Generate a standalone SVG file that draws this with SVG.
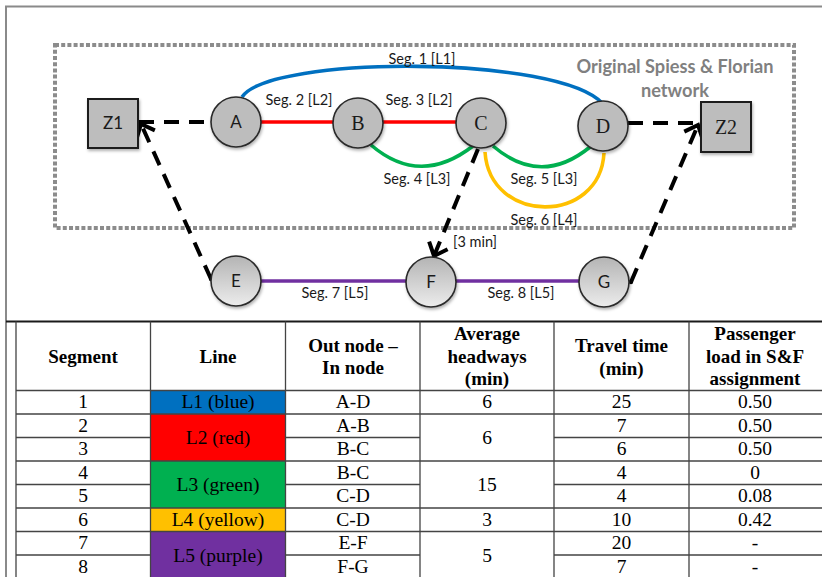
<svg xmlns="http://www.w3.org/2000/svg" width="822" height="577" viewBox="0 0 822 577">
  <style>
    .lbl { font-family: Lato, "Open Sans", "Liberation Sans", sans-serif; font-size: 14.5px; fill: #1a1a1a; }
    .ns { font-family: Lato, "Liberation Sans", sans-serif; font-size: 17px; fill: #1a1a1a; text-anchor: middle; }
    .nr { font-family: "Liberation Serif", "DejaVu Serif", serif; font-size: 20px; fill: #1a1a1a; text-anchor: middle; }
    .node { stroke: #2a2a2a; stroke-width: 1.6; }
    .solid { fill: #bdbdbd; }
    .grad { fill: url(#nodeGrad); }
    .zone { fill: #bdbdbd; stroke: #1a1a1a; stroke-width: 2; }
    .seg { fill: none; stroke-width: 3.6; }
    .walk { fill: none; stroke: #000; stroke-width: 4; stroke-dasharray: 15 10; }
    .th { font-family: "Liberation Serif", "Times New Roman", serif; font-size: 19px; font-weight: bold; fill: #000; text-anchor: middle; }
    .td { font-family: "Liberation Serif", "Times New Roman", serif; font-size: 19.5px; fill: #000; text-anchor: middle; }
    .grid { stroke: #444; stroke-width: 1.3; fill: none; }
  </style>
  <defs>
    <linearGradient id="nodeGrad" x1="0" y1="0" x2="0" y2="1">
      <stop offset="0" stop-color="#b4b4b4"/>
      <stop offset="1" stop-color="#ececec"/>
    </linearGradient>
    <filter id="shadow" x="-30%" y="-30%" width="160%" height="170%">
      <feDropShadow dx="1" dy="2" stdDeviation="1.5" flood-color="#000" flood-opacity="0.3"/>
    </filter>
    <marker id="chev" markerUnits="userSpaceOnUse" markerWidth="30" markerHeight="30" refX="0" refY="0" viewBox="-16 -15 20 30" orient="auto">
      <path d="M-11.5,-10 L0,0 L-11.5,10" fill="none" stroke="#000" stroke-width="4"/>
    </marker>
    <marker id="dot" markerUnits="userSpaceOnUse" markerWidth="6" markerHeight="6" refX="0" refY="0" viewBox="-3 -3 6 6">
      <circle r="2.2" fill="#000"/>
    </marker>
  </defs>

  <rect width="822" height="577" fill="#fff"/>

  <!-- page frame -->
  <path d="M6,577 V6.5 H822" fill="none" stroke="#8a8a8a" stroke-width="2"/>

  <!-- original network boundary -->
  <rect x="55" y="45" width="739" height="183" fill="none" stroke="#8c8c8c" stroke-width="4" stroke-dasharray="4 2.2"/>
  <text x="675" y="73" text-anchor="middle" font-family="Lato, 'Open Sans', 'Liberation Sans', sans-serif" font-size="18.2px" font-weight="bold" fill="#808080">Original Spiess &amp; Florian</text>
  <text x="675" y="97" text-anchor="middle" font-family="Lato, 'Open Sans', 'Liberation Sans', sans-serif" font-size="18.2px" font-weight="bold" fill="#808080">network</text>

  <!-- connectors -->
  <g id="connectors">
    <path class="seg" stroke="#0070c0" d="M242,97 C270,55 560,55 603,104"/>
    <line class="seg" stroke="#ff0000" x1="261" y1="122" x2="334" y2="122"/>
    <line class="seg" stroke="#ff0000" x1="383" y1="122" x2="457" y2="122"/>
    <path class="seg" stroke="#00b050" d="M371,145 Q420,187 473,146"/>
    <path class="seg" stroke="#00b050" d="M493,146 Q541,187 590,147"/>
    <path class="seg" stroke="#ffc000" d="M485,152 C490,225 600,225 604,153"/>
    <line class="seg" stroke="#7030a0" x1="261" y1="281" x2="406" y2="281"/>
    <line class="seg" stroke="#7030a0" x1="456" y1="281" x2="579" y2="281"/>

    <line class="walk" x1="139" y1="122" x2="211" y2="122"/>
    <line class="walk" x1="211" y1="279" x2="141" y2="124" marker-start="url(#dot)" marker-end="url(#chev)"/>
    <line class="walk" x1="478" y1="149" x2="434" y2="256" marker-end="url(#chev)"/>
    <line class="walk" x1="628" y1="123" x2="700" y2="123"/>
    <line class="walk" x1="631" y1="282" x2="698" y2="125" marker-start="url(#dot)" marker-end="url(#chev)"/>

    <text class="lbl" x="422" y="64" text-anchor="middle">Seg. 1 [L1]</text>
    <text class="lbl" x="299" y="105" text-anchor="middle">Seg. 2 [L2]</text>
    <text class="lbl" x="419" y="105" text-anchor="middle">Seg. 3 [L2]</text>
    <text class="lbl" x="417" y="184" text-anchor="middle">Seg. 4 [L3]</text>
    <text class="lbl" x="544" y="184" text-anchor="middle">Seg. 5 [L3]</text>
    <text class="lbl" x="544" y="225" text-anchor="middle">Seg. 6 [L4]</text>
    <text class="lbl" x="335" y="298" text-anchor="middle">Seg. 7 [L5]</text>
    <text class="lbl" x="521" y="298" text-anchor="middle">Seg. 8 [L5]</text>
    <text class="lbl" x="475" y="247" text-anchor="middle">[3 min]</text>
  </g>

  <!-- zones -->
  <g id="Z1">
    <rect class="zone" x="88" y="99" width="50" height="49" filter="url(#shadow)"/>
    <text class="ns" x="113" y="129">Z1</text>
  </g>
  <g id="Z2">
    <rect class="zone" x="701" y="102" width="50" height="50" filter="url(#shadow)"/>
    <text class="nr" x="726" y="134">Z2</text>
  </g>

  <!-- stops -->
  <g id="A">
    <circle class="node solid" cx="236" cy="122" r="25" filter="url(#shadow)"/>
    <text class="ns" x="236" y="128">A</text>
  </g>
  <g id="B">
    <circle class="node solid" cx="358" cy="123" r="25" filter="url(#shadow)"/>
    <text class="nr" x="358" y="130">B</text>
  </g>
  <g id="C">
    <circle class="node solid" cx="481" cy="123" r="25" filter="url(#shadow)"/>
    <text class="nr" x="481" y="130">C</text>
  </g>
  <g id="D">
    <circle class="node solid" cx="603" cy="126" r="25" filter="url(#shadow)"/>
    <text class="nr" x="603" y="133">D</text>
  </g>
  <g id="E">
    <circle class="node grad" cx="236" cy="281" r="25" filter="url(#shadow)"/>
    <text class="ns" x="236" y="287">E</text>
  </g>
  <g id="F">
    <circle class="node grad" cx="431" cy="282" r="25" filter="url(#shadow)"/>
    <text class="ns" x="431" y="288">F</text>
  </g>
  <g id="G">
    <circle class="node grad" cx="604" cy="282" r="25" filter="url(#shadow)"/>
    <text class="ns" x="604" y="288">G</text>
  </g>

  <!-- segment table -->
  <g id="table">
    <!-- line colour cells -->
    <rect x="150.5" y="390.5" width="135" height="23.5" fill="#0070c0"/>
    <rect x="150.5" y="414" width="135" height="47" fill="#ff0000"/>
    <rect x="150.5" y="461" width="135" height="47" fill="#00b050"/>
    <rect x="150.5" y="508" width="135" height="23.5" fill="#ffc000"/>
    <rect x="150.5" y="531.5" width="135" height="47" fill="#7030a0"/>

    <!-- rules -->
    <line x1="6" y1="321.5" x2="822" y2="321.5" stroke="#1a1a1a" stroke-width="2"/>
    <path class="grid" d="M16,321.5 V577 M150.5,321.5 V577 M285.5,321.5 V577 M420,321.5 V577 M554,321.5 V577 M689,321.5 V577"/>
    <path class="grid" d="M16,390.5 H822 M16,414 H822 M16,508 H822 M16,531.5 H822"/>
    <path class="grid" d="M16,437.5 H150.5 M285.5,437.5 H420 M554,437.5 H822"/>
    <path class="grid" d="M16,461 H822"/>
    <path class="grid" d="M16,484.5 H150.5 M285.5,484.5 H420 M554,484.5 H822"/>
    <path class="grid" d="M16,555 H150.5 M285.5,555 H420 M554,555 H822"/>

    <!-- header -->
    <text class="th" x="83" y="363">Segment</text>
    <text class="th" x="218" y="363">Line</text>
    <text class="th" x="353" y="352">Out node –</text>
    <text class="th" x="353" y="374">In node</text>
    <text class="th" x="487" y="340">Average</text>
    <text class="th" x="487" y="363">headways</text>
    <text class="th" x="487" y="385">(min)</text>
    <text class="th" x="621.5" y="352">Travel time</text>
    <text class="th" x="621.5" y="375">(min)</text>
    <text class="th" x="755" y="340">Passenger</text>
    <text class="th" x="755" y="363">load in S&amp;F</text>
    <text class="th" x="755" y="385">assignment</text>

    <!-- segment column -->
    <text class="td" x="83" y="408">1</text>
    <text class="td" x="83" y="431.5">2</text>
    <text class="td" x="83" y="455">3</text>
    <text class="td" x="83" y="478.5">4</text>
    <text class="td" x="83" y="502">5</text>
    <text class="td" x="83" y="525.5">6</text>
    <text class="td" x="83" y="549">7</text>
    <text class="td" x="83" y="572.5">8</text>

    <!-- line column -->
    <text class="td" x="218" y="408">L1 (blue)</text>
    <text class="td" x="218" y="444">L2 (red)</text>
    <text class="td" x="218" y="491">L3 (green)</text>
    <text class="td" x="218" y="525.5">L4 (yellow)</text>
    <text class="td" x="218" y="561.5">L5 (purple)</text>

    <!-- out node / in node -->
    <text class="td" x="353" y="408">A-D</text>
    <text class="td" x="353" y="431.5">A-B</text>
    <text class="td" x="353" y="455">B-C</text>
    <text class="td" x="353" y="478.5">B-C</text>
    <text class="td" x="353" y="502">C-D</text>
    <text class="td" x="353" y="525.5">C-D</text>
    <text class="td" x="353" y="549">E-F</text>
    <text class="td" x="353" y="572.5">F-G</text>

    <!-- headways -->
    <text class="td" x="487" y="408">6</text>
    <text class="td" x="487" y="444">6</text>
    <text class="td" x="487" y="491">15</text>
    <text class="td" x="487" y="525.5">3</text>
    <text class="td" x="487" y="561.5">5</text>

    <!-- travel time -->
    <text class="td" x="621.5" y="408">25</text>
    <text class="td" x="621.5" y="431.5">7</text>
    <text class="td" x="621.5" y="455">6</text>
    <text class="td" x="621.5" y="478.5">4</text>
    <text class="td" x="621.5" y="502">4</text>
    <text class="td" x="621.5" y="525.5">10</text>
    <text class="td" x="621.5" y="549">20</text>
    <text class="td" x="621.5" y="572.5">7</text>

    <!-- passenger load -->
    <text class="td" x="755" y="408">0.50</text>
    <text class="td" x="755" y="431.5">0.50</text>
    <text class="td" x="755" y="455">0.50</text>
    <text class="td" x="755" y="478.5">0</text>
    <text class="td" x="755" y="502">0.08</text>
    <text class="td" x="755" y="525.5">0.42</text>
    <text class="td" x="755" y="549">-</text>
    <text class="td" x="755" y="572.5">-</text>
  </g>
</svg>
